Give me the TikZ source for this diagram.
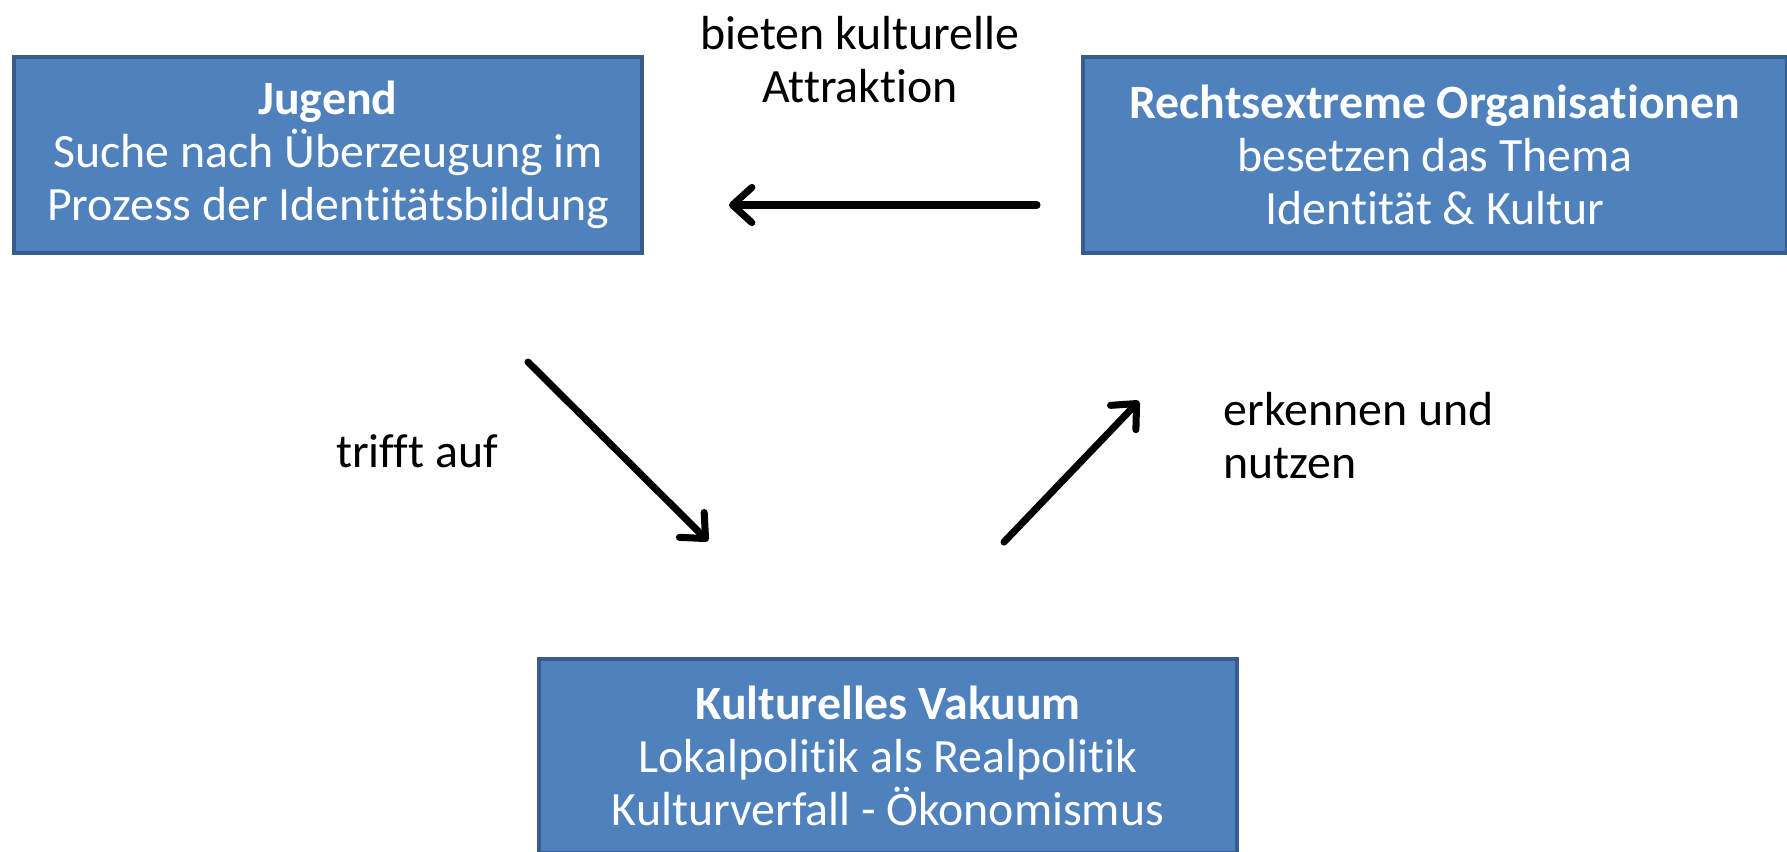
\documentclass[tikz,border=0pt]{standalone}
\usepackage{fontspec}
\setmainfont{Carlito}[Ligatures=NoCommon, Contextuals=NoAlternate]
\usepackage{tikz}
\usetikzlibrary{arrows.meta}
\definecolor{boxfill}{HTML}{4F81BD}
\definecolor{boxline}{HTML}{385D8A}
\tikzset{
  every block/.style={draw=boxline, fill=boxfill, line width=1pt, text=white,
    align=center, inner sep=0pt, font=\fontsize{13.6}{15.1}\selectfont},
  label text/.style={align=left, inner sep=0pt, font=\fontsize{13.6}{15.1}\selectfont},
  flow/.style={line width=2pt, line cap=round,
    -{Straight Barb[round, length=5.5pt, width=10pt, line width=2pt]}}
}
\begin{document}
\begin{tikzpicture}[x=0.01cm, y=-0.01cm]
\useasboundingbox (0,0) rectangle (1787,851);

\node [every block, minimum width=6.28cm, minimum height=1.96cm] (jugend) at (328,155)
  {\textbf{Jugend}\\Suche nach Überzeugung im\\Prozess der Identitätsbildung};
\node [every block, minimum width=7.04cm, minimum height=1.96cm] (rechts) at (1435,155)
  {\textbf{Rechtsextreme Organisationen}\\besetzen das Thema\\Identität \& Kultur};
\node [every block, minimum width=6.98cm, minimum height=1.94cm] (vakuum) at (888,756)
  {\textbf{Kulturelles Vakuum}\\Lokalpolitik als Realpolitik\\Kulturverfall - Ökonomismus};

% freie Pfeilenden
\coordinate (rechts-aus) at (1037,205);
\coordinate (jugend-ein) at (729,205);
\coordinate (jugend-aus) at (528,362);
\coordinate (vakuum-ein) at (708,541);
\coordinate (vakuum-aus) at (1004,542);
\coordinate (rechts-ein) at (1139,401);

\draw [flow] (rechts-aus) -- (jugend-ein);
\draw [flow] (jugend-aus) -- (vakuum-ein);
\draw [flow] (vakuum-aus) -- (rechts-ein);

\node [label text, align=center] (bieten) at (860,60) {bieten kulturelle\\Attraktion};
\node [label text] (trifft) at (417,451) {trifft auf};
\node [label text, anchor=west] (erkennen) at (1223,436) {erkennen und\\nutzen};

\end{tikzpicture}
\end{document}
